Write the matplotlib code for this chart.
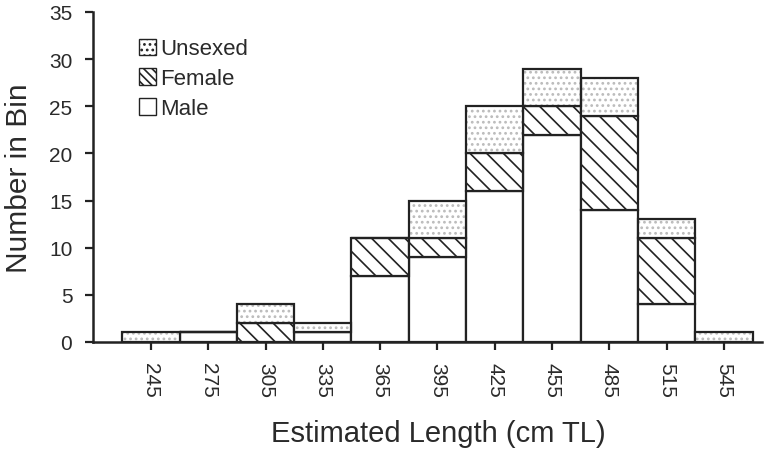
import matplotlib
matplotlib.use('Agg')
import matplotlib.pyplot as plt
from matplotlib.patches import Patch

plt.rcParams['font.family'] = ['Liberation Sans', 'DejaVu Sans']
plt.rcParams['hatch.linewidth'] = 1.2

bins = [245, 275, 305, 335, 365, 395, 425, 455, 485, 515, 545]
male = [0, 1, 0, 1, 7, 9, 16, 22, 14, 4, 0]
female = [0, 0, 2, 0, 4, 2, 4, 3, 10, 7, 0]
unsexed = [1, 0, 2, 1, 0, 4, 5, 4, 4, 2, 1]

fig = plt.figure(figsize=(7.7, 4.56), dpi=100)
ax = fig.add_axes((0.121, 0.248, 0.869, 0.7235))

w = 30
edge = '#222222'
txt = '#2a2a2a'
bottom2 = [m + f for m, f in zip(male, female)]

# male
ax.bar(bins, male, width=w, color='white', edgecolor=edge, linewidth=1.6, zorder=2)
# female (hatched)
ax.bar(bins, female, width=w, bottom=male, color='white', edgecolor=edge,
       hatch='\\\\', linewidth=1.6, zorder=2)
# unsexed: grey dots, then black outline on top
ax.bar(bins, unsexed, width=w, bottom=bottom2, color='white', edgecolor='#bbbbbb',
       hatch='...', linewidth=0, zorder=2)
ax.bar(bins, unsexed, width=w, bottom=bottom2, fill=False, edgecolor=edge,
       linewidth=1.6, zorder=3)

ax.set_xlim(214.8, 565)
ax.set_ylim(0, 35)
ax.set_xticks(bins)
ax.set_xticklabels([str(b) for b in bins], rotation=270, fontsize=15)
ax.set_yticks(range(0, 36, 5))
ax.tick_params(axis='y', labelsize=15, length=6, width=1.6, color=edge,
               labelcolor=txt, pad=9)
ax.tick_params(axis='x', length=6, width=1.6, color=edge, labelcolor=txt, pad=8.5)

for s in ['top', 'right']:
    ax.spines[s].set_visible(False)
for s in ['left', 'bottom']:
    ax.spines[s].set_linewidth(1.8)
    ax.spines[s].set_color(edge)

ax.set_ylabel('Number in Bin', fontsize=21.5, color=txt, labelpad=11.5)
ax.set_xlabel('Estimated Length (cm TL)', fontsize=21, color=txt, labelpad=16)
ax.xaxis.label.set_x(0.516)

handles = [
    Patch(facecolor='white', edgecolor=edge, hatch='...', label='Unsexed'),
    Patch(facecolor='white', edgecolor=edge, hatch='\\\\\\\\', label='Female'),
    Patch(facecolor='white', edgecolor=edge, label='Male'),
]
leg = ax.legend(handles=handles, loc='upper left', bbox_to_anchor=(0.045, 0.967),
                frameon=False, fontsize=16, handlelength=0.75, handleheight=0.75,
                handletextpad=0.2, labelspacing=0.4, borderpad=0.2)
for t in leg.get_texts():
    t.set_color(txt)

fig.savefig('out.png', dpi=100)
